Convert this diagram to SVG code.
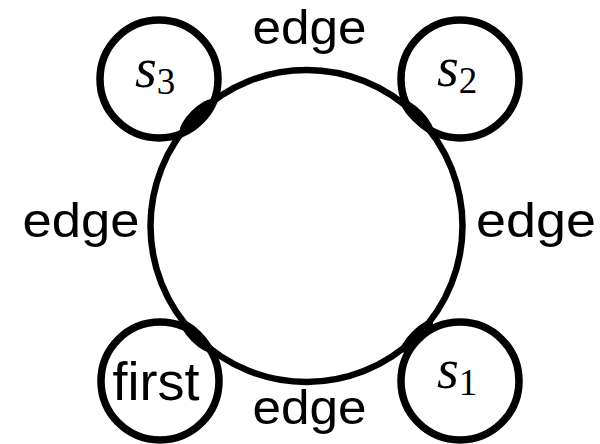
<svg xmlns="http://www.w3.org/2000/svg" width="600" height="444" viewBox="0 0 600 444">
<style>
.node{fill:#fff;stroke:#000;stroke-width:7.5}
.edge{fill:none;stroke:#000;stroke-width:6.5}
.lens{fill:#000;stroke:none}
.lbl{font-family:"Liberation Sans",Arial,sans-serif;font-size:49px;fill:#000;text-anchor:middle}
.s{font-family:"Liberation Serif","Times New Roman",serif;font-style:italic;font-size:56px;fill:#000}
.sub{font-style:normal;font-size:37px}
</style>
<rect width="600" height="444" fill="#fff"/>
<g id="n-s3"><circle class="node" cx="159" cy="79" r="59"/><text class="s" x="135" y="87">s<tspan class="sub" dy="7">3</tspan></text></g>
<g id="n-s2"><circle class="node" cx="460" cy="79" r="59"/><text class="s" x="437" y="86">s<tspan class="sub" dy="7">2</tspan></text></g>
<g id="n-first"><circle class="node" cx="160" cy="381" r="59"/><text class="lbl" x="156" y="400" style="font-size:54px">first</text></g>
<g id="n-s1"><circle class="node" cx="460" cy="381" r="59"/><text class="s" x="437" y="388">s<tspan class="sub" dy="7">1</tspan></text></g>
<g id="edges">
<circle class="edge" cx="306.5" cy="226" r="156"/>
<ellipse class="lens" cx="196.2" cy="115.7" rx="22" ry="6.5" transform="rotate(-45 196.2 115.7)"/>
<ellipse class="lens" cx="416.8" cy="115.7" rx="22" ry="6.5" transform="rotate(45 416.8 115.7)"/>
<ellipse class="lens" cx="416.8" cy="336.3" rx="22" ry="6.5" transform="rotate(-45 416.8 336.3)"/>
<ellipse class="lens" cx="196.2" cy="336.3" rx="22" ry="6.5" transform="rotate(45 196.2 336.3)"/>
<text class="lbl" x="309.5" y="44" textLength="114" lengthAdjust="spacingAndGlyphs">edge</text>
<text class="lbl" x="309.5" y="424" textLength="114" lengthAdjust="spacingAndGlyphs">edge</text>
<text class="lbl" x="81" y="237" textLength="117" lengthAdjust="spacingAndGlyphs">edge</text>
<text class="lbl" x="536" y="237" textLength="120" lengthAdjust="spacingAndGlyphs">edge</text>
</g>
</svg>
